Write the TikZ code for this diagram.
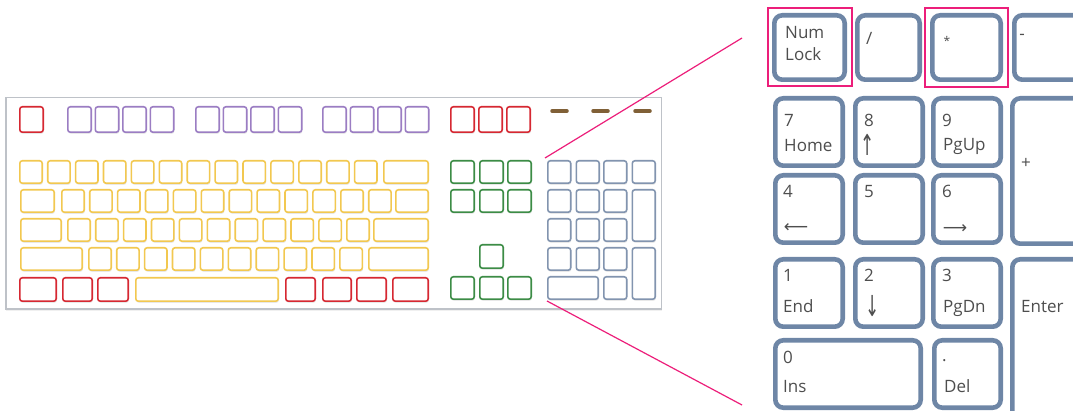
\documentclass[tikz,border=0pt]{standalone}
\usepackage{fontspec}
\setmainfont{Open Sans}
\newfontfamily\arrowfont{DejaVu Sans}
\usepackage{tikz}
\usetikzlibrary{positioning, shadows, fit}
\definecolor{kbred}{RGB}{214, 40, 50}
\definecolor{kbpurple}{RGB}{155, 125, 195}
\definecolor{kbyellow}{RGB}{242, 200, 80}
\definecolor{kbgreen}{RGB}{60, 140, 70}
\definecolor{kbpad}{RGB}{130, 148, 175}
\definecolor{kbled}{RGB}{128, 96, 55}
\definecolor{kbframe}{RGB}{190, 194, 200}
\definecolor{padslate}{RGB}{110, 134, 166}
\definecolor{hipink}{RGB}{236, 30, 122}
\definecolor{keytext}{RGB}{78, 78, 78}
\newcommand{\keyfont}{\fontsize{17}{20}\selectfont}

\begin{document}
\begin{tikzpicture}[
  x=1pt, y=-1pt,
  every node/.style={font=\keyfont},
  kw/.style={minimum width=#1-1.6pt},
  kh/.style={minimum height=#1-1.6pt},
  kb/.style={draw, fill=white, rounded corners=2.5pt, line width=1.6pt,
             inner sep=0pt, anchor=north west, kw=24, kh=24,
             drop shadow={shadow xshift=0.6pt, shadow yshift=-1.6pt, opacity=0.18}},
  fkey/.style={kb, kw=25, kh=27},
  akey/.style={kb, draw=kbyellow},
  mkey/.style={kb, draw=kbred, kh=25},
  nkey/.style={kb, draw=kbgreen, kw=25},
  pkey/.style={kb, draw=kbpad, kw=24.5},
  led/.style={kbled, line width=3.5pt, line cap=round},
  bw/.style={minimum width=#1-4.6pt},
  bh/.style={minimum height=#1-4.6pt},
  bkey/.style={draw=padslate, fill=white, line width=4.6pt, rounded corners=8pt,
               inner sep=0pt, anchor=north west, bw=72, bh=72,
               drop shadow={shadow xshift=0.8pt, shadow yshift=-1.5pt, opacity=0.15}},
  hilite/.style={draw=hipink, line width=2pt, inner sep=4.5pt},
  zoomline/.style={hipink, line width=1.2pt},
  lbl/.style={anchor=base west, inner sep=0pt, text=keytext},
  sym/.style={anchor=center, inner sep=0pt, text=keytext},
  arw/.style={sym, font=\arrowfont\fontsize{17}{20}\selectfont}
]
\useasboundingbox (0,0) rectangle (1073,411);
\clip (0,0) rectangle (1073,411);

% ── Keyboard ─────────────────────────────────────────────────────────────────
\node[draw=kbframe, fill=white, line width=1.5pt, inner sep=0pt, anchor=north west,
      minimum width=655.5pt, minimum height=211.5pt,
      drop shadow={shadow xshift=0.5pt, shadow yshift=-1.5pt, opacity=0.12}]
  (board) at (5,97) {};

% function row
\node[fkey, draw=kbred] (esc) at (19,106) {};
\foreach \x [count=\i] in {67,94.5,122,149.5,195,222.5,250,277.5,322,349.5,377,404.5}
  \node[fkey, draw=kbpurple] (f\i) at (\x,106) {};
\foreach \x [count=\i] in {450,478,506}
  \node[fkey, draw=kbred] (sys\i) at (\x,106) {};

% lights
\draw[led] (552,111) -- (567,111);
\draw[led] (593,111) -- (608,111);
\draw[led] (635,111) -- (650,111);

% main block
\foreach \i in {0,...,12}
  \node[akey] (a1-\i) at ({19+27.9*\i},160) {};
\node[akey, kw=46] (bksp) at (383,160) {};

\node[akey, kw=35] (tab) at (20,189) {};
\foreach \i in {0,...,11}
  \node[akey] (a2-\i) at ({61+27.9*\i},189) {};
\node[akey, kw=34] (bslash) at (395,189) {};

\node[akey, kw=42] (caps) at (20,218) {};
\foreach \i in {0,...,10}
  \node[akey] (a3-\i) at ({67+27.9*\i},218) {};
\node[akey, kw=56] (ret) at (373,218) {};

\node[akey, kw=63] (lshift) at (20,247) {};
\foreach \i in {0,...,9}
  \node[akey] (a4-\i) at ({88+27.9*\i},247) {};
\node[akey, kw=61] (rshift) at (368,247) {};

\node[mkey, kw=38] (lctrl) at (19,277) {};
\node[mkey, kw=31] (lwin)  at (62,277) {};
\node[mkey, kw=32] (lalt)  at (97,277) {};
\node[akey, kw=144, kh=25] (space) at (135,277) {};
\node[mkey, kw=31] (ralt)  at (285,277) {};
\node[mkey, kw=30] (rwin)  at (322,277) {};
\node[mkey, kw=31] (menu)  at (356,277) {};
\node[mkey, kw=37] (rctrl) at (392,277) {};

% navigation keys
\foreach \x [count=\i] in {450,479,507} {
  \node[nkey] (ins\i) at (\x,160) {};
  \node[nkey] (del\i) at (\x,189) {};
  \node[nkey] (arr\i) at (\x,276) {};
}
\node[nkey, kh=25] (up) at (479,244) {};

% numeric keypad
\node[pkey] (npnum) at (547,160) {};
\node[pkey] (npdiv) at (575.5,160) {};
\node[pkey] (npmul) at (603,160) {};
\node[pkey] (npsub) at (631.5,160) {};
\foreach \y/\a/\b/\c in {189/7/8/9, 218/4/5/6, 247/1/2/3} {
  \node[pkey] (np\a) at (547,\y) {};
  \node[pkey] (np\b) at (575.5,\y) {};
  \node[pkey] (np\c) at (603,\y) {};
}
\node[pkey, kh=53] (npplus)  at (631.5,189) {};
\node[pkey, kh=53] (npenter) at (631.5,247) {};
\node[pkey, kw=52] (np0)     at (547,276) {};
\node[pkey]        (npdot)   at (603,276) {};

% ── Enlarged keypad ──────────────────────────────────────────────────────────
\node[bkey, bw=75, bh=69] (bnum) at (772,13) {};
\node[bkey, bw=67, bh=69] (bdiv) at (855,13) {};
\node[bkey, bw=73, bh=69] (bmul) at (930,13) {};
\node[bkey, bw=80, bh=69] (bsub) at (1012,13) {};
\foreach \y/\a/\b/\c in {96/7/8/9, 173/4/5/6, 257/1/2/3} {
  \node[bkey] (b\a) at (773,\y) {};
  \node[bkey] (b\b) at (853,\y) {};
  \node[bkey] (b\c) at (931,\y) {};
}
\node[bkey, bw=80, bh=150] (bplus)  at (1010,96) {};
\node[bkey, bw=80, bh=170] (benter) at (1010,257) {};
\node[bkey, bw=150] (b0)   at (773,338) {};
\node[bkey, bw=71]  (bdot) at (932,338) {};

% key labels
\node[lbl] (tnum)  at (785,39)  {Num};
\node[lbl] (tlock) at (785,61)  {Lock};
\node[lbl] (tdiv)  at (866,45)  {/};
\node[sym, font=\fontsize{12}{14}\selectfont] (tmul) at (947,41) {*};
\node[sym] (tsub)  at (1022,37) {-};
\node[lbl] (t7)    at (784,127) {7};
\node[lbl] (thome) at (784,152) {Home};
\node[lbl] (t8)    at (864,127) {8};
\node[arw] (tup)   at (868,145) {\scalebox{1}[1.7]{↑}};
\node[lbl] (t9)    at (942,127) {9};
\node[lbl] (tpgup) at (943,151) {PgUp};
\node[sym] (tplus) at (1026,163) {+};
\node[lbl] (t4)    at (783,198) {4};
\node[arw] (tleft) at (796,228) {⟵};
\node[lbl] (t5)    at (864,198) {5};
\node[lbl] (t6)    at (942,198) {6};
\node[arw] (tright) at (955,229) {⟶};
\node[lbl] (t1)    at (783,282) {1};
\node[lbl] (tend)  at (783,313) {End};
\node[lbl] (t2)    at (864,282) {2};
\node[arw] (tdown) at (873,306) {\scalebox{1}[1.7]{↓}};
\node[lbl] (t3)    at (942,282) {3};
\node[lbl] (tpgdn) at (943,313) {PgDn};
\node[lbl] (tenter) at (1021,313) {Enter};
\node[lbl] (t0)    at (783,363) {0};
\node[lbl] (tins)  at (783,392) {Ins};
\node[lbl] (tdot)  at (942,362) {.};
\node[lbl] (tdel)  at (944,392) {Del};

% highlighted keys
\node[hilite, fit=(bnum)] (hnum) {};
\node[hilite, fit=(bmul), inner sep=5pt] (hmul) {};

% ── Zoom lines ───────────────────────────────────────────────────────────────
\coordinate (ztop) at (742,38);
\coordinate (zbot) at (742,405);
\draw[zoomline] ([shift={(-2pt,2pt)}]npnum.north west) -- (ztop);
\draw[zoomline] ([shift={(0pt,-1pt)}]np0.south west) -- (zbot);

\end{tikzpicture}
\end{document}
